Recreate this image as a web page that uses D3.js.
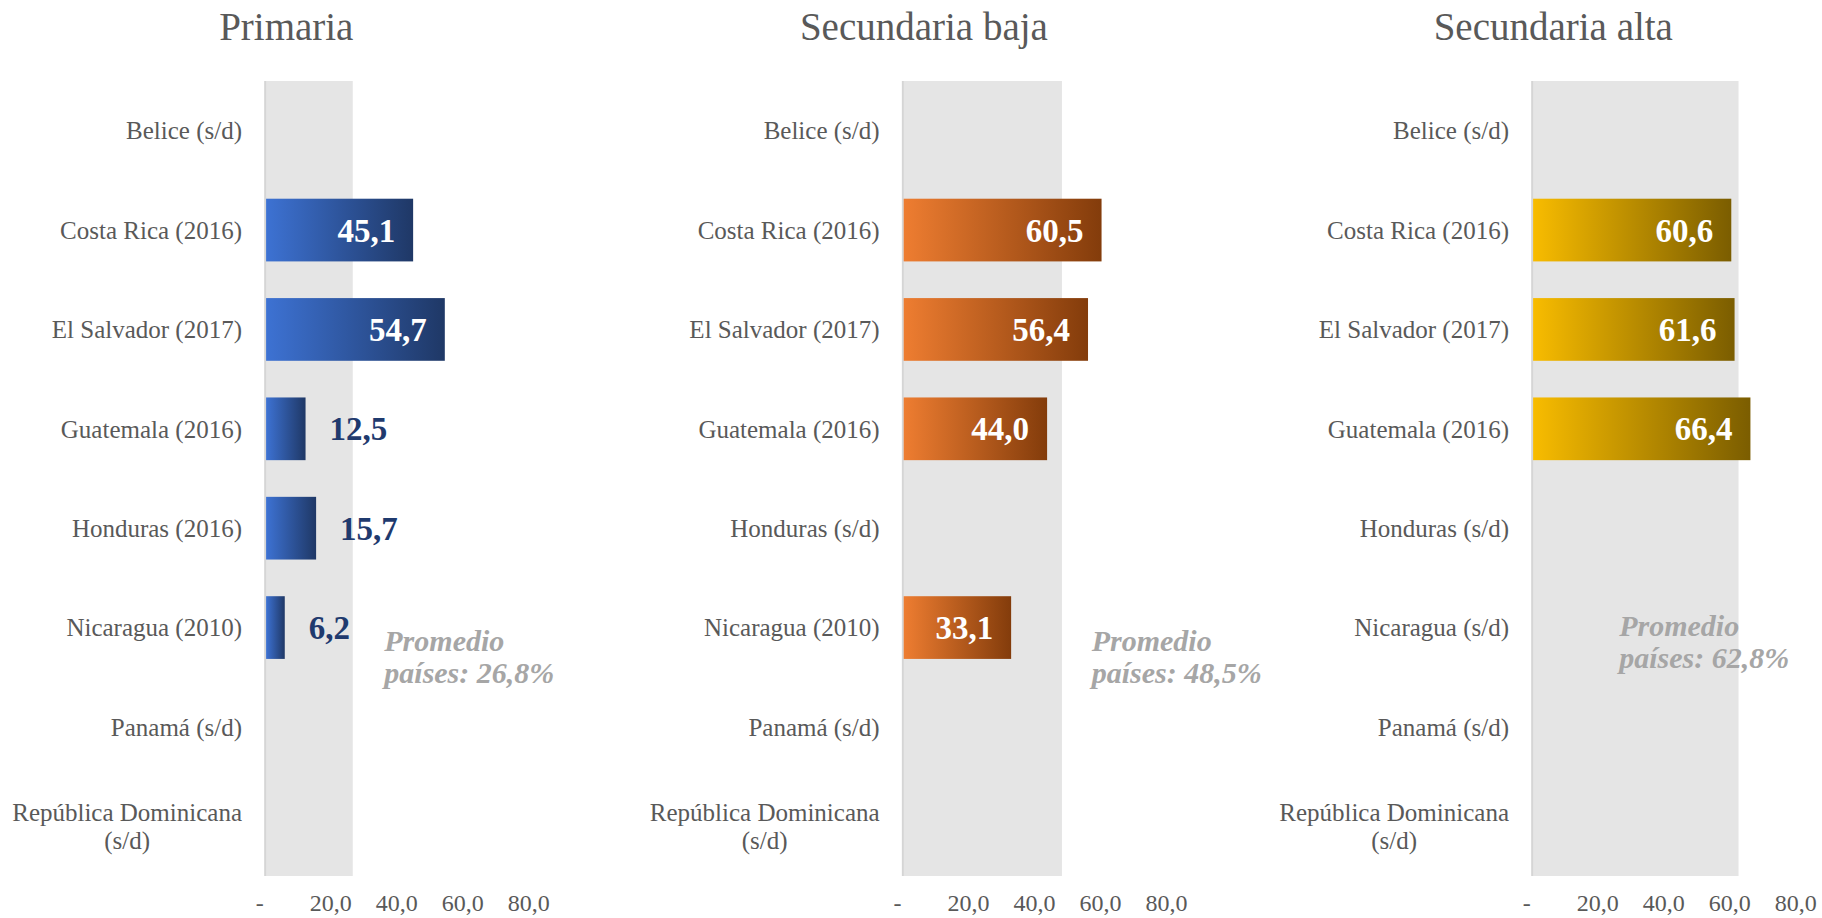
<!DOCTYPE html>
<html>
<head>
<meta charset="utf-8">
<script src="https://cdn.jsdelivr.net/npm/d3@7"></script>
<style>
  html, body { margin: 0; padding: 0; background: #ffffff; }
  svg { display: block; }
  text { font-family: "Liberation Serif", "Times New Roman", serif; }
</style>
</head>
<body>
<svg id="chart" width="1822" height="918"></svg>
<script>
// ---------------- DATA ----------------
const countries = ["Belice", "Costa Rica", "El Salvador", "Guatemala", "Honduras", "Nicaragua", "Panamá", "República Dominicana"];
const panelTitles = ["Primaria", "Secundaria baja", "Secundaria alta"];
const yearsPrimaria = [null, 2016, 2017, 2016, 2016, 2010, null, null];
const yearsBaja     = [null, 2016, 2017, 2016, null, 2010, null, null];
const yearsAlta     = [null, 2016, 2017, 2016, null, null, null, null];
const valuesPrimaria = [null, 45.1, 54.7, 12.5, 15.7, 6.2, null, null];
const valuesBaja     = [null, 60.5, 56.4, 44.0, null, 33.1, null, null];
const valuesAlta     = [null, 60.6, 61.6, 66.4, null, null, null, null];
const averages = [26.8, 48.5, 62.8];
const tickValues = [0, 20, 40, 60, 80];

// ---------------- LAYOUT / STYLE ----------------
const W = 1822, H = 918;
const plotTop = 81, plotBottom = 876;
const pxPerUnit = 3.3;
const panelX0 = [264.3, 901.9, 1531.3];
const gradients = [["#3D72D3", "#1F3866"], ["#EE7D31", "#833C0B"], ["#F8BC00", "#7B5D00"]];
const outsideLabelColor = "#1F3A6E";
const noteOffsets = [{dx: 120, y: 650.7}, {dx: 189.8, y: 650.7}, {dx: 87.9, y: 636}];
const textGray = "#595959";

const yearsAll = [yearsPrimaria, yearsBaja, yearsAlta];
const valuesAll = [valuesPrimaria, valuesBaja, valuesAlta];
const fmt1 = v => d3.format(".1f")(v).replace(".", ",");

const svg = d3.select("#chart");
svg.append("rect").attr("width", W).attr("height", H).attr("fill", "#ffffff");
const defs = svg.append("defs");

gradients.forEach((g, i) => {
  const lg = defs.append("linearGradient").attr("id", "grad" + i)
    .attr("x1", "0%").attr("x2", "100%").attr("y1", "0%").attr("y2", "0%");
  lg.append("stop").attr("offset", "0%").attr("stop-color", g[0]);
  lg.append("stop").attr("offset", "100%").attr("stop-color", g[1]);
});

const y = d3.scaleBand().domain(countries).range([plotTop, plotBottom]).padding(0);
const barH = y.bandwidth() * 0.631;

panelTitles.forEach((title, p) => {
  const x0 = panelX0[p];
  const x = d3.scaleLinear().domain([0, 80]).range([x0, x0 + 80 * pxPerUnit]);
  const g = svg.append("g");
  const values = valuesAll[p];
  const years = yearsAll[p];

  // title
  g.append("text").attr("x", x0 + 22).attr("y", 40)
    .attr("text-anchor", "middle").attr("font-size", 39).attr("fill", textGray)
    .text(title);

  // average band
  g.append("rect")
    .attr("x", x(0)).attr("y", plotTop)
    .attr("width", x(averages[p]) - x(0)).attr("height", plotBottom - plotTop)
    .attr("fill", "#E5E5E5");

  // axis line
  g.append("line")
    .attr("x1", x(0) + 0.9).attr("x2", x(0) + 0.9)
    .attr("y1", plotTop).attr("y2", plotBottom)
    .attr("stroke", "#D5D5D5").attr("stroke-width", 1.8);

  // bars
  const data = countries.map((c, i) => ({c, v: values[i], yr: years[i]}));
  g.selectAll("rect.bar").data(data.filter(d => d.v != null)).join("rect")
    .attr("class", "bar")
    .attr("x", x(0) + 1.8)
    .attr("y", d => y(d.c) + (y.bandwidth() - barH) / 2)
    .attr("width", d => x(d.v) - x(0) - 1.8)
    .attr("height", barH)
    .attr("fill", `url(#grad${p})`);

  // value labels
  g.selectAll("text.val").data(data.filter(d => d.v != null)).join("text")
    .attr("class", "val")
    .attr("font-size", 33).attr("font-weight", "bold")
    .attr("dy", "0.35em")
    .attr("y", d => y(d.c) + y.bandwidth() / 2)
    .each(function(d) {
      const inside = d.v >= 30;
      d3.select(this)
        .attr("x", inside ? x(d.v) - 18 : x(d.v) + 24)
        .attr("text-anchor", inside ? "end" : "start")
        .attr("fill", inside ? "#ffffff" : outsideLabelColor)
        .text(fmt1(d.v));
    });

  // category labels
  data.forEach(d => {
    const label = d.c + " (" + (d.yr == null ? "s/d" : d.yr) + ")";
    const cy = y(d.c) + y.bandwidth() / 2;
    const t = g.append("text").attr("font-size", 25).attr("fill", textGray);
    if (label.length > 22) {
      const parts = [d.c, "(" + (d.yr == null ? "s/d" : d.yr) + ")"];
      t.attr("text-anchor", "middle");
      const tmp = g.append("text").attr("font-size", 25).text(parts[0]);
      const w = tmp.node().getComputedTextLength();
      tmp.remove();
      const cx = x(0) - 22.3 - w / 2;
      parts.forEach((s, k) => {
        t.append("tspan").attr("x", cx).attr("y", cy - 14 + k * 28).attr("dy", "0.35em").text(s);
      });
    } else {
      t.attr("text-anchor", "end").attr("x", x(0) - 22.3).attr("y", cy).attr("dy", "0.35em").text(label);
    }
  });

  // x axis
  const ax = g.append("g").attr("transform", `translate(0,911)`)
    .call(d3.axisBottom(x).tickValues(tickValues).tickSize(0)
      .tickFormat(v => v === 0 ? "-" : fmt1(v)));
  ax.select(".domain").remove();
  ax.selectAll("text")
    .attr("y", 0).attr("dy", 0)
    .attr("font-size", 24).attr("fill", textGray)
    .attr("font-family", "Liberation Serif, Times New Roman, serif")
    .attr("dx", v => v === 0 ? -5 : 0);

  // average note
  const note = noteOffsets[p];
  const nt = g.append("text").attr("font-size", 30).attr("font-weight", "bold")
    .attr("font-style", "italic").attr("fill", "#A6A6A6");
  nt.append("tspan").attr("x", x0 + note.dx).attr("y", note.y).text("Promedio");
  nt.append("tspan").attr("x", x0 + note.dx).attr("y", note.y + 32).text("países: " + fmt1(averages[p]) + "%");
});
</script>
</body>
</html>
